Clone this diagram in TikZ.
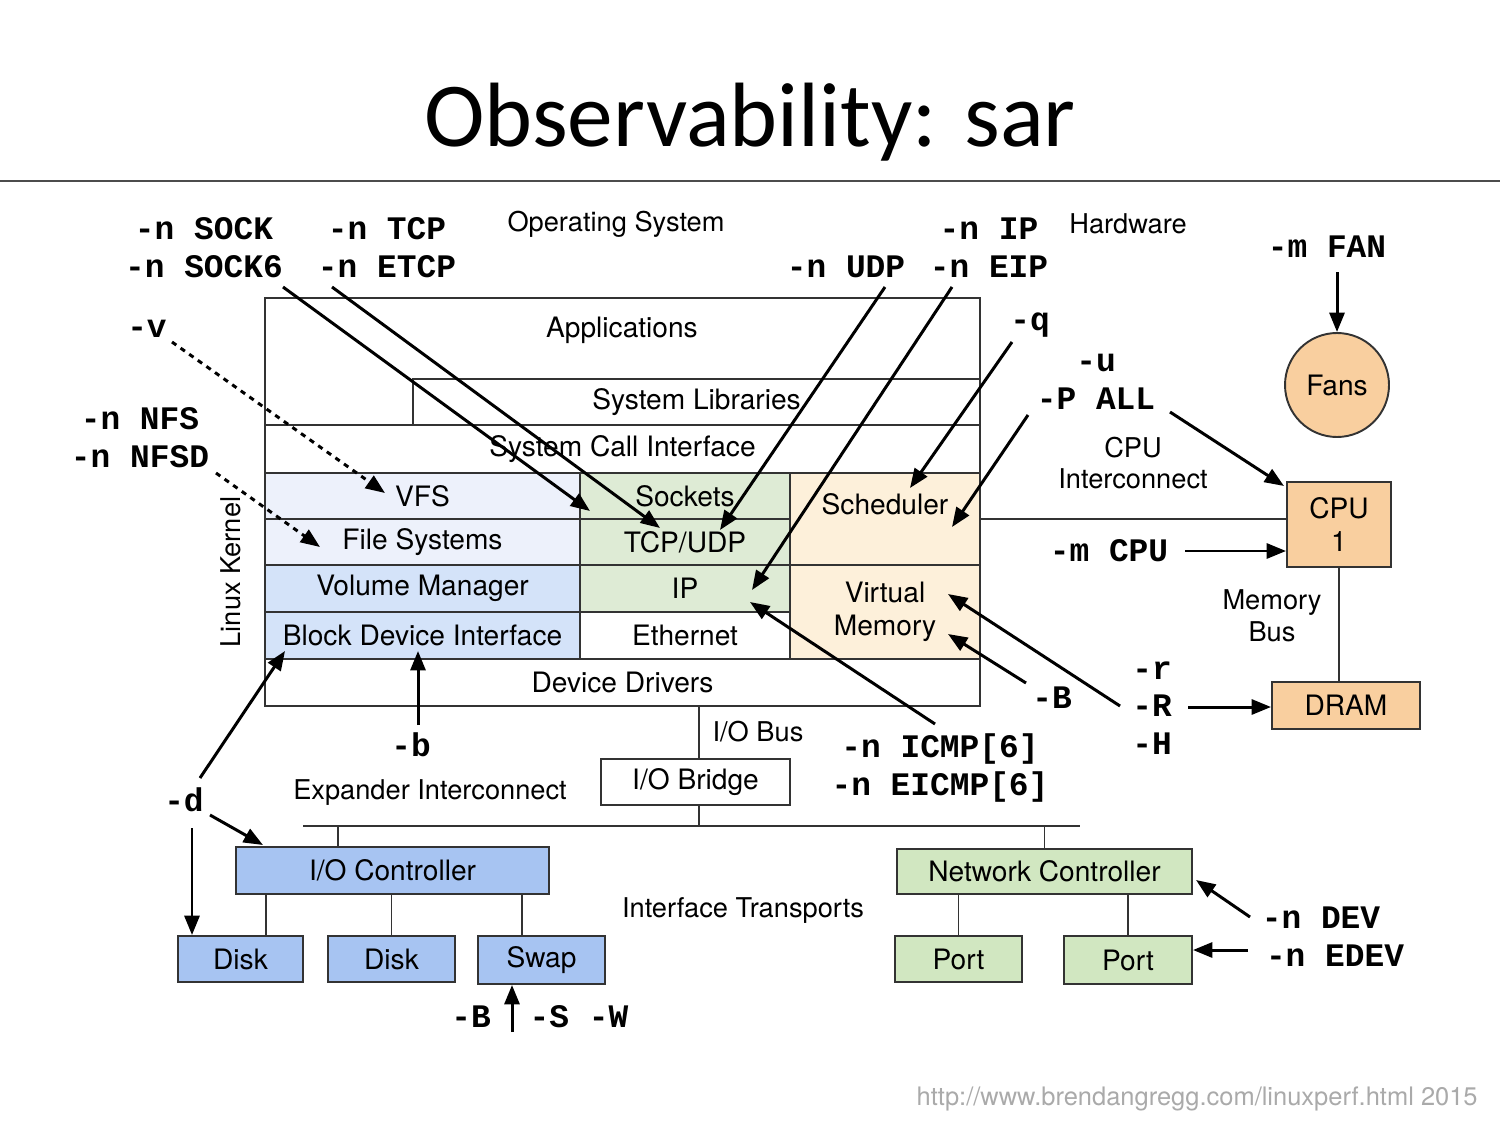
\documentclass[tikz,border=0pt]{standalone}
\usepackage{fontspec}
\setmainfont{TeX Gyre Heros}
\setmonofont{Liberation Mono}
\newfontfamily\titlefont{Carlito}
\usetikzlibrary{arrows.meta}

\definecolor{fsblue}{HTML}{EDF1FB}
\definecolor{blkblue}{HTML}{D4E3F9}
\definecolor{netgreen}{HTML}{DEEBD5}
\definecolor{memorange}{HTML}{FDF0DA}
\definecolor{hworange}{HTML}{F9CF9F}
\definecolor{ioblue}{HTML}{A7C4F2}
\definecolor{nicgreen}{HTML}{D1E7C1}
\definecolor{urlgray}{HTML}{AAAAAA}

\newcommand\pxu{0.02cm}
% box from corner (x1,y1) to (x2,y2), in pixels
\newcommand\kbox[7]{%
  \node[box, fill=#6, minimum width={(#4-#2)*\pxu}, minimum height={(#5-#3)*\pxu}]
    (#1) at ({(#2+#4)/2},{(#3+#5)/2}) {#7};}

\tikzset{
  box/.style={draw=black!80, line width=1.1pt, inner sep=0pt, align=center,
    font=\fontsize{16}{18.7}\selectfont},
  lbl/.style={inner sep=0pt, align=center, font=\fontsize{15.5}{18}\selectfont},
  opt/.style={inner sep=0pt, align=center,
    font=\fontsize{18.7}{21.5}\selectfont\ttfamily\bfseries},
  arr/.style={line width=1.7pt, -{Triangle[length=11pt,width=8.5pt]}},
  dotarr/.style={arr, dash pattern=on 3pt off 3pt},
  wire/.style={line width=1pt, draw=black!80},
}

\begin{document}
\begin{tikzpicture}[x=0.02cm, y=-0.02cm]
\useasboundingbox (0,0) rectangle (1500,1125);

\node[font=\titlefont\fontsize{52}{60}\selectfont, inner sep=0pt] (title) at (750,122) {Observability: sar};
\draw[line width=0.8pt, black!70] (0,181) -- (1500,181);

% kernel stack
\kbox{kernel}{265}{298}{980}{706}{white}{}
\node[box, draw=none] (apps) at (622,330) {Applications};
\kbox{syslib}{413}{379}{980}{425}{white}{System Libraries}
\kbox{syscall}{265}{425}{980}{473}{white}{System Call Interface}
\kbox{vfs}{265}{473}{580}{519}{fsblue}{VFS}
\kbox{fs}{265}{519}{580}{565}{fsblue}{File Systems}
\kbox{vol}{265}{565}{580}{612}{blkblue}{Volume Manager}
\kbox{bdi}{265}{612}{580}{659}{blkblue}{Block Device Interface}
\kbox{sockets}{580}{473}{790}{519}{netgreen}{Sockets}
\kbox{tcpudp}{580}{519}{790}{565}{netgreen}{TCP/UDP}
\kbox{ipl}{580}{565}{790}{612}{netgreen}{IP}
\kbox{eth}{580}{612}{790}{659}{white}{Ethernet}
\kbox{sched}{790}{473}{980}{565}{memorange}{}
\node[box, draw=none] (schedt) at (885,504) {Scheduler};
\kbox{vm}{790}{565}{980}{659}{memorange}{Virtual\\Memory}
\kbox{drv}{265}{659}{980}{706}{white}{Device Drivers}

% hardware
\node[box, circle, fill=hworange, minimum size=104*\pxu] (fans) at (1337,385) {Fans};
\kbox{cpu}{1287}{482}{1391}{567}{hworange}{CPU\\1}
\kbox{dram}{1272}{682}{1420}{729}{hworange}{DRAM}
\kbox{iobridge}{601}{759}{790}{805}{white}{I/O Bridge}
\kbox{ioctl}{236}{847}{549}{894}{ioblue}{I/O Controller}
\kbox{disk1}{178}{936}{303}{982}{ioblue}{Disk}
\kbox{disk2}{328}{936}{455}{982}{ioblue}{Disk}
\kbox{swap}{478}{936}{605}{984}{ioblue}{Swap}
\kbox{netctl}{897}{849}{1192}{894}{nicgreen}{Network Controller}
\kbox{port1}{895}{936}{1022}{982}{nicgreen}{Port}
\kbox{port2}{1064}{936}{1192}{984}{nicgreen}{Port}

% buses
\coordinate (busL) at (303,826);
\coordinate (busR) at (1080,826);
\coordinate (tapA) at (338,826);
\coordinate (tapB) at (699,826);
\coordinate (t1) at (266,894);
\coordinate (t3) at (522,894);
\draw[wire] (sched.east) -- (sched.east -| cpu.west);
\draw[wire] (cpu.south) -- (cpu.south |- dram.north);
\draw[wire] (tapB |- iobridge.north) -- (tapB |- kernel.south);
\draw[wire] (tapB |- iobridge.south) -- (tapB);
\draw[wire] (busL) -- (busR);
\draw[wire] (tapA) -- (tapA |- ioctl.north);
\draw[wire] (netctl.north) -- (netctl.north |- busL);
\draw[wire] (t1) -- (t1 |- disk1.north);
\draw[wire] (disk2.north) -- (disk2.north |- ioctl.south);
\draw[wire] (t3) -- (t3 |- swap.north);
\draw[wire] (port1.north) -- (port1.north |- netctl.south);
\draw[wire] (port2.north) -- (port2.north |- netctl.south);

% plain labels
\node[lbl] (os) at (616,224) {Operating System};
\node[lbl] (hw) at (1128,224) {Hardware};
\node[lbl] (cpuic) at (1133,463) {CPU\\Interconnect};
\node[lbl] (membus) at (1272,616) {Memory\\Bus};
\node[lbl, rotate=90] (lk) at (231,572) {Linux Kernel};
\node[lbl] (iobus) at (758,732) {I/O Bus};
\node[lbl] (expic) at (430,793) {Expander Interconnect};
\node[lbl] (ift) at (743,910) {Interface Transports};
\node[inner sep=0pt, anchor=east, text=urlgray, font=\fontsize{14.5}{17}\selectfont] (url) at (1478,1099)
  {http://www.brendangregg.com/linuxperf.html 2015};

% sar options
\node[opt] (sock) at (204,248) {-n SOCK\\-n SOCK6};
\node[opt] (tcp) at (387,248) {-n TCP\\-n ETCP};
\node[opt] (udp) at (846,267) {-n UDP};
\node[opt] (ip) at (989,248) {-n IP\\-n EIP};
\node[opt] (fan) at (1327,247) {-m FAN};
\node[opt] (vopt) at (147,329) {-v};
\node[opt] (qopt) at (1030,325) {-q};
\node[opt] (uopt) at (1096,382) {-u\\-P ALL};
\node[opt] (nfs) at (140,438) {-n NFS\\-n NFSD};
\node[opt] (mcpu) at (1109,551) {-m CPU};
\node[opt] (ropt) at (1152,708) {-r\\-R\\-H};
\node[opt] (bopt) at (1052,698) {-B};
\node[opt] (bdev) at (411,745) {-b};
\node[opt] (icmp) at (940,768) {-n ICMP[6]\\-n EICMP[6]};
\node[opt] (dopt) at (184,800) {-d};
\node[opt] (dev) at (1321,918) {-n DEV};
\node[opt] (edev) at (1335,956) {-n EDEV};
\node[opt] (swb) at (471,1017) {-B};
\node[opt] (sws) at (579,1017) {-S -W};

% arrow ends
\coordinate (sockA) at (283,287);   \coordinate (sockT) at (590,511);
\coordinate (tcpA) at (332,287);    \coordinate (tcpT) at (660,528);
\coordinate (udpA) at (885,287);    \coordinate (udpT) at (720,530);
\coordinate (ipA) at (952,287);     \coordinate (ipT) at (752,590);
\coordinate (qA) at (1012,342);     \coordinate (qT) at (910,488);
\coordinate (pA) at (1028,415);     \coordinate (pT) at (952,527);
\coordinate (pcA) at (1170,412);    \coordinate (pcT) at (1284,486);
\coordinate (fanA) at (1337,272);
\coordinate (mcpuA) at (1185,551);
\coordinate (rA) at (1188,707);
\coordinate (rvA) at (1120,706);    \coordinate (rvT) at (948,594);
\coordinate (bA) at (1026,683);     \coordinate (bT) at (948,634);
\coordinate (icA) at (935,724);     \coordinate (icT) at (750,602);
\coordinate (vA) at (172,342);      \coordinate (vT) at (385,493);
\coordinate (nfA) at (216,473);     \coordinate (nfT) at (320,547);
\coordinate (dA) at (200,778);      \coordinate (dT) at (285,651);
\coordinate (bdA) at (418,725);     \coordinate (bdT) at (418,651);
\coordinate (dcA) at (210,815);     \coordinate (dcT) at (263,845);
\coordinate (ddA) at (192,828);
\coordinate (swA) at (512,1032);
\coordinate (devA) at (1250,917);   \coordinate (devT) at (1196,880);
\coordinate (edA) at (1248,950);

\draw[arr] (sockA) -- (sockT);
\draw[arr] (tcpA) -- (tcpT);
\draw[arr] (udpA) -- (udpT);
\draw[arr] (ipA) -- (ipT);
\draw[arr] (qA) -- (qT);
\draw[arr] (pA) -- (pT);
\draw[arr] (pcA) -- (pcT);
\draw[arr] (fanA) -- (fans.north);
\draw[arr] (mcpuA) -- (mcpuA -| cpu.west);
\draw[arr] (rA) -- (rA -| dram.west);
\draw[arr] (rvA) -- (rvT);
\draw[arr] (bA) -- (bT);
\draw[arr] (icA) -- (icT);
\draw[dotarr] (vA) -- (vT);
\draw[dotarr] (nfA) -- (nfT);
\draw[arr] (dA) -- (dT);
\draw[arr] (bdA) -- (bdT);
\draw[arr] (dcA) -- (dcT);
\draw[arr] (ddA) -- (ddA |- disk1.north);
\draw[arr] (swA) -- (swA |- swap.south);
\draw[arr] (devA) -- (devT);
\draw[arr] (edA) -- (edA -| port2.east);
\end{tikzpicture}
\end{document}
